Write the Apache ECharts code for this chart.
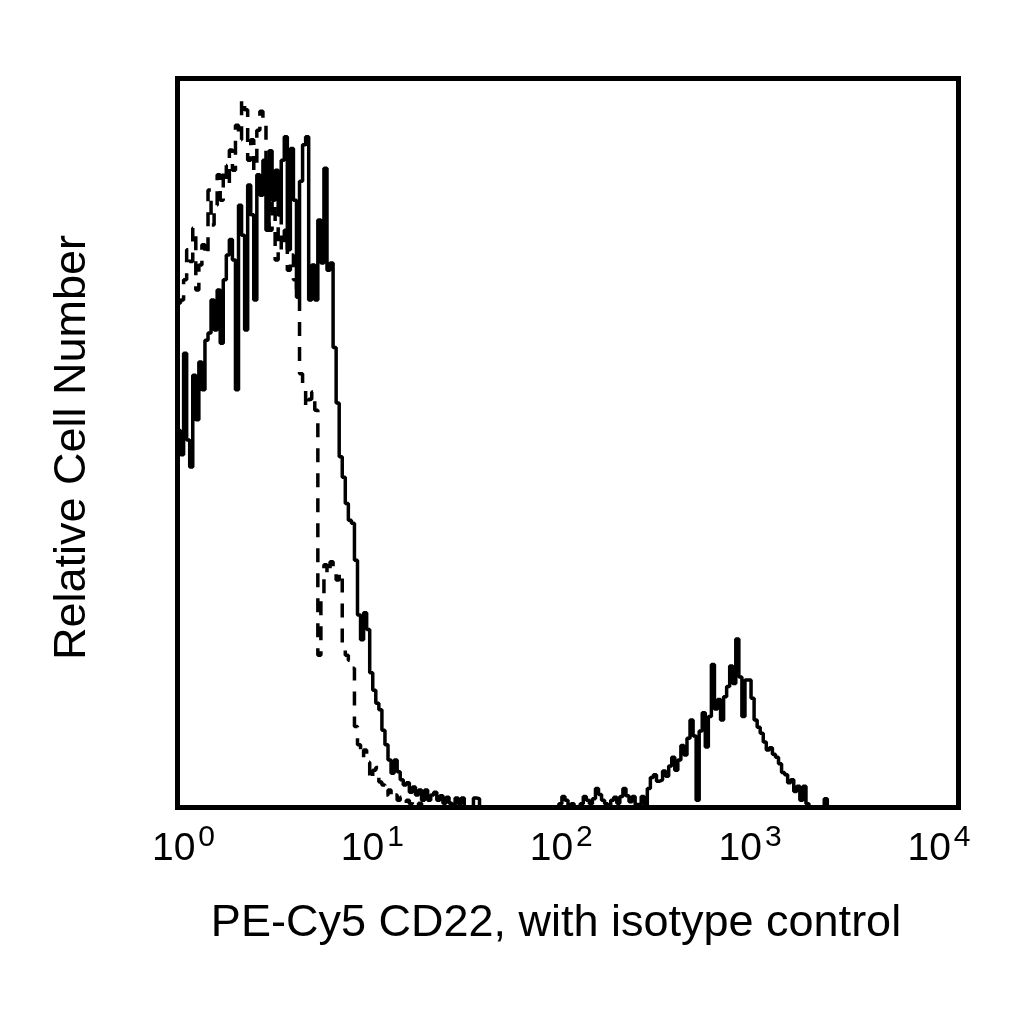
<!DOCTYPE html>
<html>
<head>
<meta charset="utf-8">
<script src="https://cdn.jsdelivr.net/npm/echarts@6/dist/echarts.min.js"></script>
<style>
  html, body { margin: 0; padding: 0; background: #fff; }
  #chart-container { width: 1024px; height: 1024px; }
</style>
</head>
<body>
<div id="chart-container"></div>
<script>
// 256 channels over 4 decades (64 channels per decade)
const decades = [0, 1, 2, 3, 4]

// PE-Cy5 CD22 (solid line), relative counts per channel
const cd22 = [
  51.7, 48.4, 62.3, 50.4, 46.7, 59.3, 53.2, 61.1, 57.3, 64.1, 65.1, 69.6, 65.5, 71.0, 63.7, 72.4,
  75.8, 77.9, 75.1, 57.3, 82.6, 78.5, 65.5, 85.4, 81.3, 69.6, 86.8, 84.0, 88.8, 79.2, 90.1, 83.3,
  87.4, 81.3, 88.8, 92.0, 76.5, 90.4, 83.3, 70.0, 85.9, 90.9, 92.0, 69.6, 74.4, 69.6, 80.6, 74.7,
  87.7, 73.7, 74.7, 63.1, 55.5, 48.1, 45.3, 41.7, 39.4, 39.0, 33.9, 26.4, 23.0, 26.7, 24.4, 18.5,
  16.1, 14.3, 13.4, 10.6, 8.6, 6.5, 4.7, 6.5, 4.9, 3.8, 3.1, 3.4, 2.1, 2.8, 1.7, 2.4,
  1.0, 2.4, 1.0, 1.7, 2.1, 1.0, 1.6, 0.6, 1.4, 0.6, 0.2, 1.3, 0.5, 1.3, 0, 0,
  0, 1.3, 1.2, 0, 0, 0, 0, 0, 0, 0, 0, 0, 0, 0, 0, 0,
  0, 0, 0, 0, 0, 0, 0, 0, 0, 0, 0, 0, 0, 0.5, 1.5, 1.0,
  0, 0.5, 0, 0, 0.5, 1.5, 1.0, 0.5, 1.2, 2.6, 1.8, 1.0, 0.5, 0, 1.0, 1.4,
  0.6, 1.5, 2.6, 1.6, 0.8, 1.5, 0.4, 0.5, 1.5, 0.3, 2.6, 4.1, 4.5, 3.6, 3.8, 5.0,
  4.3, 5.7, 6.9, 5.1, 6.5, 8.5, 7.2, 9.5, 12.0, 9.8, 1.0, 10.5, 13.0, 8.3, 12.5, 19.6,
  13.5, 14.8, 12.0, 15.2, 16.6, 19.4, 17.0, 23.1, 17.9, 12.5, 17.5, 17.5, 15.0, 12.0, 11.0, 10.2,
  9.0, 7.9, 8.2, 7.3, 6.9, 6.0, 4.8, 4.5, 3.4, 3.8, 2.2, 2.9, 1.0, 2.9, 0.5, 0,
  0, 0, 0, 0, 1.2, 0, 0, 0, 0, 0, 0, 0, 0, 0, 0, 0,
  0, 0, 0, 0, 0, 0, 0, 0, 0, 0, 0, 0, 0, 0, 0, 0,
  0, 0, 0, 0, 0, 0, 0, 0, 0, 0, 0, 0, 0, 0, 0, 0
]

// isotype control (dashed line)
const isotype = [
  69.2, 69.6, 72.4, 76.5, 74.9, 79.5, 71.0, 74.4, 77.2, 75.8, 84.7, 79.9, 82.6, 86.8, 83.3, 88.1,
  85.4, 90.2, 87.4, 93.6, 91.6, 97.1, 95.7, 88.8, 91.6, 87.4, 92.9, 95.5, 94.4, 88.1, 79.2, 83.3,
  75.1, 81.3, 76.5, 79.2, 73.7, 75.8, 72.4, 70.0, 59.5, 58.2, 54.9, 56.0, 57.0, 54.5, 20.9, 29.1,
  33.3, 32.0, 33.7, 33.0, 31.2, 32.2, 22.5, 20.9, 20.2, 19.1, 11.1, 8.6, 6.9, 7.9, 6.2, 3.8,
  5.1, 5.5, 3.5, 3.1, 1.7, 2.4, 1.3, 1.7, 1.0, 1.4, 0.6, 1.0, 0.5, 1.0, 0, 0.6,
  0, 0, 0, 0, 0, 0, 0, 0, 0, 0, 0, 0, 0, 0, 0, 0,
  0, 0, 0, 0, 0, 0, 0, 0, 0, 0, 0, 0, 0, 0, 0, 0,
  0, 0, 0, 0, 0, 0, 0, 0, 0, 0, 0, 0, 0, 0, 0, 0,
  0, 0, 0, 0, 0, 0, 0, 0, 0, 0, 0, 0, 0, 0, 0, 0,
  0, 0, 0, 0, 0, 0, 0, 0, 0, 0, 0, 0, 0, 0, 0, 0,
  0, 0, 0, 0, 0, 0, 0, 0, 0, 0, 0, 0, 0, 0, 0, 0,
  0, 0, 0, 0, 0, 0, 0, 0, 0, 0, 0, 0, 0, 0, 0, 0,
  0, 0, 0, 0, 0, 0, 0, 0, 0, 0, 0, 0, 0, 0, 0, 0,
  0, 0, 0, 0, 0, 0, 0, 0, 0, 0, 0, 0, 0, 0, 0, 0,
  0, 0, 0, 0, 0, 0, 0, 0, 0, 0, 0, 0, 0, 0, 0, 0,
  0, 0, 0, 0, 0, 0, 0, 0, 0, 0, 0, 0, 0, 0, 0, 0
]

const toPairs = arr => arr.map((v, i) => [i, v])

const font = 'Liberation Sans, Arial, sans-serif'

const dom = document.getElementById('chart-container')
const myChart = echarts.init(dom, null, { renderer: 'canvas' })

const options = {
  animation: false,
  grid: {
    left: 177.5,
    right: 65.5,
    top: 78.5,
    bottom: 216.5,
    show: true,
    borderColor: '#000',
    borderWidth: 5,
    backgroundColor: 'transparent'
  },
  xAxis: [
    {
      // channel scale used by the data
      type: 'value',
      min: 0,
      max: 256,
      axisLine: { show: false },
      axisTick: { show: false },
      axisLabel: { show: false },
      splitLine: { show: false }
    },
    {
      // decade labels, 10^0 ... 10^4
      type: 'value',
      position: 'bottom',
      min: -0.0318,
      max: 4.1032,
      axisLine: { show: false },
      axisTick: { show: false },
      splitLine: { show: false },
      axisLabel: {
        customValues: decades,
        margin: 15,
        formatter: v => `{b|10}{s|${v}}`,
        rich: {
          b: { fontFamily: font, fontSize: 39, lineHeight: 46, verticalAlign: 'bottom', color: '#000' },
          s: { fontFamily: font, fontSize: 30, lineHeight: 30, verticalAlign: 'top', color: '#000', padding: [0, 0, 0, 3] }
        }
      },
      name: 'PE-Cy5 CD22, with isotype control',
      nameLocation: 'middle',
      nameGap: 94,
      nameTextStyle: { fontFamily: font, fontSize: 45, color: '#000', padding: [0, 24, 0, 0] }
    }
  ],
  yAxis: {
    type: 'value',
    min: 0,
    max: 100,
    axisLine: { show: false },
    axisTick: { show: false },
    axisLabel: { show: false },
    splitLine: { show: false },
    name: 'Relative Cell Number',
    nameLocation: 'middle',
    nameGap: 82,
    nameTextStyle: { fontFamily: font, fontSize: 45, color: '#000', padding: [0, 9, 0, 0] }
  },
  series: [
    {
      name: 'Isotype control',
      type: 'line',
      step: 'end',
      xAxisIndex: 0,
      symbol: 'none',
      lineStyle: { color: '#000', width: 3.5, type: [14, 11] },
      data: toPairs(isotype)
    },
    {
      name: 'PE-Cy5 CD22',
      type: 'line',
      step: 'end',
      xAxisIndex: 0,
      symbol: 'none',
      lineStyle: { color: '#000', width: 3.5 },
      data: toPairs(cd22)
    }
  ]
}

myChart.setOption(options)
window.addEventListener('resize', myChart.resize)
</script>
</body>
</html>
